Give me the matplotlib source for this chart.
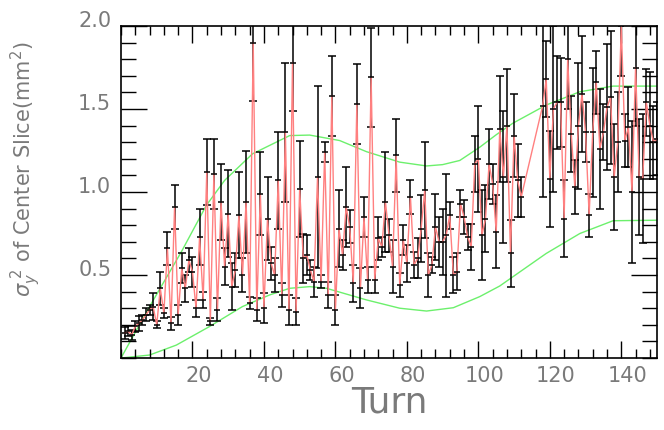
import numpy as np
import matplotlib
matplotlib.use("Agg")
import matplotlib.pyplot as plt
from matplotlib.transforms import ScaledTranslation

# sigma_y^2 per turn (turns 113-117 are missing)
turn = list(range(1, 113)) + list(range(118, 151))
sig2 = [0.15, 0.16, 0.14, 0.19, 0.21, 0.23, 0.26, 0.29, 0.31, 0.20,
        0.42, 0.27, 0.66, 0.21, 0.91, 0.26, 0.54, 0.42, 0.59, 0.52,
        0.30, 0.73, 0.35, 1.12, 0.22, 1.11, 0.29, 0.94, 0.55, 0.87,
        0.43, 0.53, 0.86, 0.50, 0.94, 0.33, 1.90, 0.29, 0.99, 0.30,
        0.84, 0.57, 0.50, 1.07, 0.38, 1.36, 0.29, 1.78, 0.28, 1.02,
        0.60, 0.62, 0.53, 0.46, 1.09, 0.46, 1.24, 0.38, 1.58, 0.29,
        0.78, 0.62, 0.91, 0.79, 0.45, 1.53, 0.42, 0.85, 0.47, 1.69,
        0.47, 0.72, 0.67, 0.94, 0.74, 0.55, 1.22, 0.44, 0.71, 0.57,
        0.97, 0.56, 0.60, 0.78, 1.01, 0.50, 0.56, 0.79, 0.70, 0.70,
        0.74, 0.86, 0.50, 0.52, 0.93, 0.85, 0.73, 0.67, 1.17, 1.20,
        0.74, 0.84, 1.17, 1.05, 0.76, 1.38, 1.09, 1.40, 0.63, 1.34,
        1.07, 0.97,
        1.52, 1.68, 1.08, 1.50, 1.54, 1.54, 0.84, 1.80, 1.35, 1.03,
        1.40, 1.59, 1.36, 0.86, 1.36, 1.66, 1.26, 1.36, 1.51, 1.57,
        1.09, 1.30, 2.00, 1.31, 1.39, 1.00, 1.75, 1.09, 1.08, 1.54,
        1.40, 1.30, 1.32]
err = [0.035, 0.03, 0.03, 0.035, 0.045, 0.03, 0.04, 0.03, 0.08, 0.02,
       0.10, 0.03, 0.10, 0.04, 0.13, 0.06, 0.09, 0.08, 0.07, 0.09,
       0.05, 0.17, 0.05, 0.20, 0.02, 0.21, 0.07, 0.23, 0.11, 0.26,
       0.14, 0.10, 0.26, 0.10, 0.31, 0.035, 0.35, 0.07, 0.25, 0.09,
       0.25, 0.10, 0.10, 0.29, 0.07, 0.42, 0.09, 0.29, 0.08, 0.29,
       0.15, 0.12, 0.06, 0.09, 0.55, 0.04, 0.06, 0.08, 0.24, 0.09,
       0.23, 0.09, 0.24, 0.10, 0.11, 0.24, 0.12, 0.12, 0.08, 0.30,
       0.08, 0.13, 0.06, 0.30, 0.10, 0.16, 0.22, 0.07, 0.09, 0.11,
       0.10, 0.08, 0.12, 0.20, 0.29, 0.13, 0.05, 0.20, 0.15, 0.20,
       0.37, 0.08, 0.11, 0.11, 0.08, 0.10, 0.08, 0.14, 0.17, 0.32,
       0.27, 0.20, 0.21, 0.12, 0.22, 0.32, 0.40, 0.34, 0.20, 0.25,
       0.22, 0.12,
       0.55, 0.23, 0.29, 0.50, 0.28, 0.27, 0.23, 0.30, 0.23, 0.16,
       0.38, 0.35, 0.18, 0.13, 0.39, 0.19, 0.36, 0.17, 0.38, 0.40,
       0.32, 0.30, 0.30, 0.16, 0.24, 0.43, 0.35, 0.35, 0.39, 0.20,
       0.32, 0.22, 0.22]

# green envelope curves
up_x = [0, 8, 16.9, 23.9, 29, 36.8, 47.2, 52.8, 61.2, 68.7, 78, 85.5, 90, 94.8, 100.4, 105, 109.7, 119, 128.4, 137.7, 150]
up_y = [0, 0.31, 0.64, 0.92, 1.07, 1.23, 1.34, 1.343, 1.31, 1.243, 1.18, 1.157, 1.165, 1.19, 1.27, 1.345, 1.415, 1.524, 1.604, 1.638, 1.638]
lo_x = [0, 8, 15.5, 24.8, 34, 41.6, 47.2, 52.8, 57.5, 68.7, 78, 85.5, 93, 100.4, 106, 109.7, 119, 128.4, 137.7, 150]
lo_y = [0, 0.018, 0.078, 0.19, 0.31, 0.38, 0.42, 0.43, 0.42, 0.35, 0.30, 0.283, 0.303, 0.37, 0.434, 0.49, 0.63, 0.75, 0.827, 0.83]

x_ticks = [20, 40, 60, 80, 100, 120, 140]
y_ticks = [0.5, 1.0, 1.5, 2.0]

txt = "#7a7a7a"
fig = plt.figure(figsize=(6.64, 4.30), dpi=100)
ax = fig.add_axes([0.1822, 0.1674, 0.8073, 0.7721])

ax.plot(up_x, up_y, color="#6cf06c", lw=1.0, zorder=1)
ax.plot(lo_x, lo_y, color="#6cf06c", lw=1.0, zorder=1)
ax.errorbar(turn, sig2, yerr=err, fmt="none", ecolor="black", elinewidth=1.1,
            capsize=2.6, capthick=1.1, zorder=2)
ax.plot(turn, sig2, color="#ff8080", lw=1.0, zorder=3)
ax.plot(turn, sig2, ls="none", marker="_", ms=5, mew=1.1, color="black", zorder=4)

ax.set_xlim(0, 150)
ax.set_ylim(0, 2.0)
ax.set_xticks(x_ticks)
ax.set_xticklabels([str(t) for t in x_ticks])
ax.set_xticks(np.arange(0, 151, 4), minor=True)
ax.set_yticks(y_ticks)
ax.set_yticklabels(["%.1f" % t for t in y_ticks])
ax.set_yticks(np.arange(0, 2.01, 0.1), minor=True)

ax.tick_params(axis="x", which="major", direction="in", length=12, width=1.0,
               top=True, labelsize=15, labelcolor=txt, pad=6)
ax.tick_params(axis="x", which="minor", direction="in", length=6.5, width=1.0, top=True)
ax.tick_params(axis="y", which="major", direction="in", length=19, width=1.0,
               right=True, labelsize=15, labelcolor=txt, pad=7)
ax.tick_params(axis="y", which="minor", direction="in", length=11, width=1.0, right=True)
for s in ax.spines.values():
    s.set_linewidth(1.2)

# PAW-style label offsets
for t in ax.yaxis.get_major_ticks():
    t.label1.set_transform(t.label1.get_transform() + ScaledTranslation(0, 7 / 100, fig.dpi_scale_trans))
for t in ax.xaxis.get_major_ticks():
    t.label1.set_transform(t.label1.get_transform() + ScaledTranslation(6 / 100, 0, fig.dpi_scale_trans))

ax.set_xlabel("Turn", fontsize=26, color=txt)
ax.xaxis.set_label_coords(0.5, -0.083)
ax.set_ylabel(r"$\sigma_y^{\ 2}$ of Center Slice(mm$^2$)", fontsize=15, color=txt)
ax.yaxis.set_label_coords(-0.145, 0.57)

fig.savefig("out.png", dpi=100)
